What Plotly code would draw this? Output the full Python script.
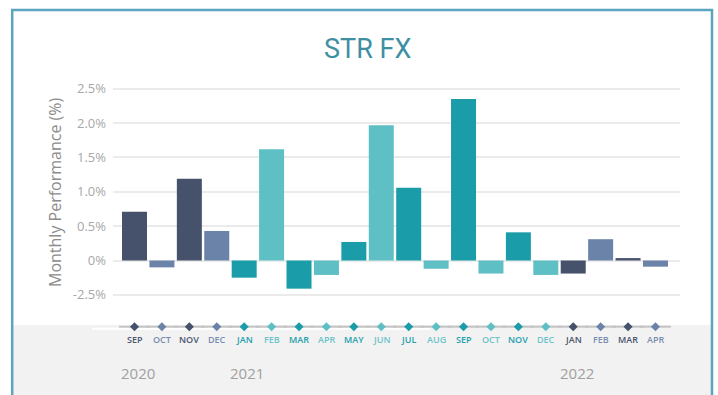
import plotly.graph_objects as go

# Monthly performance, Sep 2020 - Apr 2022
months = ["SEP", "OCT", "NOV", "DEC",
          "JAN", "FEB", "MAR", "APR", "MAY", "JUN", "JUL", "AUG", "SEP", "OCT", "NOV", "DEC",
          "JAN", "FEB", "MAR", "APR"]
years = ["2020"] * 4 + ["2021"] * 12 + ["2022"] * 4
performance = [0.71, -0.10, 1.19, 0.43,
               -0.25, 1.62, -0.41, -0.21, 0.27, 1.97, 1.06, -0.12, 2.35, -0.19, 0.41, -0.21,
               -0.19, 0.31, 0.035, -0.09]

# y ticks (the lowest gridline carries the label "-2.5%")
tick_vals = [-0.5, 0, 0.5, 1.0, 1.5, 2.0, 2.5]
tick_text = ["-2.5%", "0%", "0.5%", "1.0%", "1.5%", "2.0%", "2.5%"]

# colour scheme: alternate shades per year
year_palette = {
    "2020": ("#46516b", "#6b83a8"),
    "2021": ("#1b9ca9", "#5ebfc4"),
    "2022": ("#46516b", "#6b83a8"),
}
label_palette = {
    "2020": ("#4a5570", "#7a8db0"),
    "2021": ("#23a0ad", "#6cc4c9"),
    "2022": ("#4a5570", "#7a8db0"),
}

W, H = 718, 395
L, R, T, B = 113, W - 680, 80, 0
plot_w, plot_h = W - L - R, H - T - B

ZERO_PX, PX_PER_UNIT = 260.5, 68.7
y_top = (ZERO_PX - T) / PX_PER_UNIT
y_bot = -(H - B - ZERO_PX) / PX_PER_UNIT


def px_x(px):
    return (px - L) / plot_w


def px_y(py):
    return (H - B - py) / plot_h


def data_y(py):
    return (ZERO_PX - py) / PX_PER_UNIT


xs = list(range(len(months)))
bar_colors = [year_palette[y][i % 2] for i, y in enumerate(years)]
label_colors = [label_palette[y][i % 2] for i, y in enumerate(years)]

fig = go.Figure()

fig.add_trace(go.Bar(
    x=xs, y=performance, marker=dict(color=bar_colors, line=dict(width=0)),
    width=0.912, hoverinfo="skip", showlegend=False,
))

# timeline under the chart: short grey segments with a diamond at each month
timeline_y = [data_y(326.7)] * len(xs)
fig.add_trace(go.Scatter(
    x=xs, y=timeline_y, mode="markers", cliponaxis=False, hoverinfo="skip", showlegend=False,
    marker=dict(symbol="line-ew", size=22, line=dict(color="#c4c4c4", width=2)),
))
fig.add_trace(go.Scatter(
    x=xs, y=timeline_y, mode="markers", cliponaxis=False, hoverinfo="skip", showlegend=False,
    marker=dict(symbol="diamond", size=7, color=bar_colors, line=dict(width=0)),
))

shapes = [
    # grey footer band
    dict(type="rect", xref="paper", yref="paper", x0=px_x(13), x1=px_x(711),
         y0=px_y(325), y1=-0.1, fillcolor="#f2f2f2", line=dict(width=0), layer="below"),
    # white track line
    dict(type="line", xref="paper", yref="paper", x0=px_x(92), x1=px_x(430),
         y0=px_y(328.7), y1=px_y(328.7), line=dict(color="#ffffff", width=2), layer="below"),
    # frame
    dict(type="rect", xref="paper", yref="paper", x0=px_x(12.2), x1=px_x(712),
         y0=-0.1, y1=px_y(10), fillcolor="rgba(0,0,0,0)",
         line=dict(color="#5ca5be", width=2.5), layer="above"),
]

annotations = [
    dict(text="STR FX", xref="paper", yref="paper", x=px_x(367), y=px_y(49),
         showarrow=False, xanchor="center", yanchor="middle",
         font=dict(family="Roboto", size=27, color="#3e8fa3")),
    dict(text="Monthly Performance (%)", xref="paper", yref="paper",
         x=px_x(55), y=px_y(192), textangle=-90, showarrow=False,
         xanchor="center", yanchor="middle",
         font=dict(family="Open Sans", size=16, color="#8c8c8c")),
]

for x, m, c in zip(xs, months, label_colors):
    annotations.append(dict(
        text=m, x=x, xref="x", yref="paper", y=px_y(339), showarrow=False,
        xanchor="center", yanchor="middle",
        font=dict(family="Open Sans", size=9, color=c, weight=600),
    ))

seen = set()
for x, y in zip(xs, years):
    if y in seen:
        continue
    seen.add(y)
    annotations.append(dict(
        text=y, x=x + 0.12, xref="x", yref="paper", y=px_y(373), showarrow=False,
        xanchor="center", yanchor="middle",
        font=dict(family="Open Sans", size=15, color="#a0a0a0"),
    ))

fig.update_layout(
    width=W, height=H,
    margin=dict(l=L, r=R, t=T, b=B, pad=0),
    paper_bgcolor="#ffffff", plot_bgcolor="#ffffff",
    bargap=0.088,
    shapes=shapes, annotations=annotations,
    xaxis=dict(range=[(L - 134.5) / 27.42, (680 - 134.5) / 27.42],
               showgrid=False, zeroline=False, showticklabels=False, ticks="",
               showline=False, fixedrange=True),
    yaxis=dict(range=[y_bot, y_top], tickvals=tick_vals, ticktext=tick_text,
               showgrid=True, gridcolor="#ebebeb", gridwidth=2, zeroline=False,
               showline=False, ticks="", ticklabelstandoff=6,
               tickfont=dict(family="Open Sans", size=13, color="#a8a8a8"),
               fixedrange=True),
)

fig.write_html("out.html", config={"displayModeBar": False})
